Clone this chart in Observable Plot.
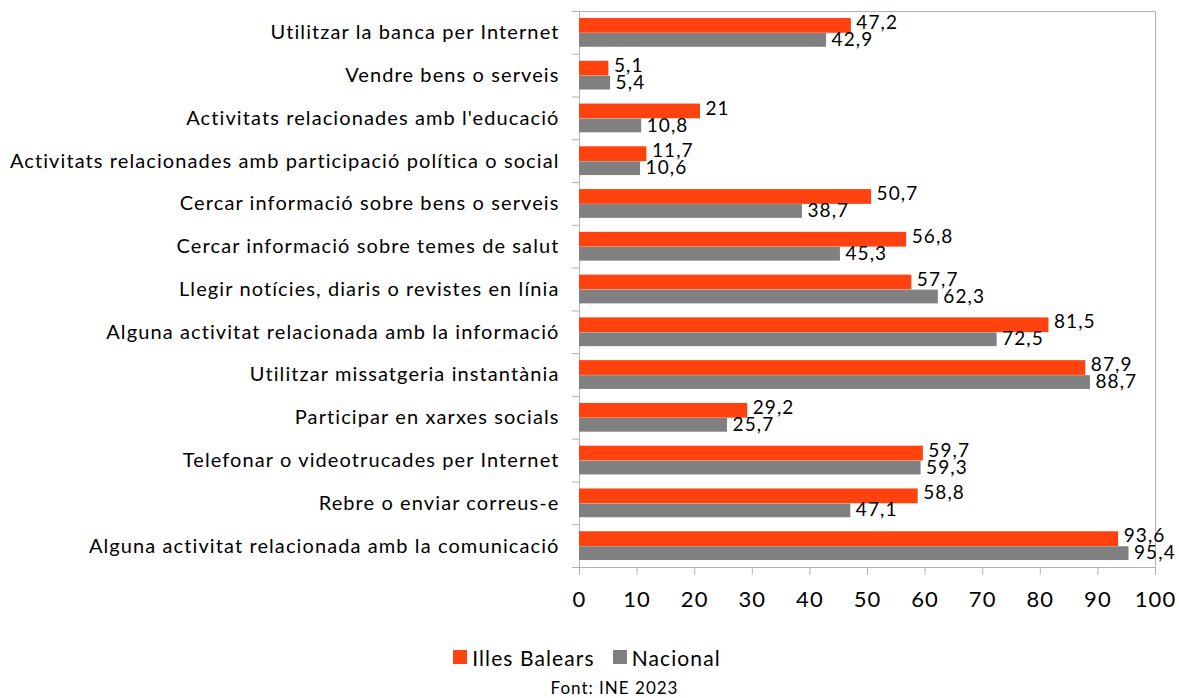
<!DOCTYPE html>
<html>
<head>
<meta charset="utf-8">
<script src="https://cdn.jsdelivr.net/npm/d3@7"></script>
<script src="https://cdn.jsdelivr.net/npm/@observablehq/plot@0.6"></script>
<style>
  body { margin: 0; background: #fff; font-family: Lato, sans-serif; }
  svg text { letter-spacing: 1.1px; }
  #legend { display: flex; justify-content: center; align-items: center; margin-top: 20px; height: 24px; font-size: 21px; letter-spacing: 1.1px; color: #000; padding-right: 5px; }
  #legend .item { display: flex; align-items: center; margin: 0 9px; }
  #legend .sw { width: 14px; height: 14px; margin-right: 5px; }
  #caption { text-align: center; font-size: 17px; letter-spacing: 1px; margin-top: 9px; height: 20px; line-height: 20px; color: #000; padding-left: 50px; }
</style>
</head>
<body>
<div id="chart"></div>
<div id="legend"></div>
<div id="caption">Font: INE 2023</div>
<script>
const categories = [
  "Utilitzar la banca per Internet",
  "Vendre bens o serveis",
  "Activitats relacionades amb l'educació",
  "Activitats relacionades amb participació política o social",
  "Cercar informació sobre bens o serveis",
  "Cercar informació sobre temes de salut",
  "Llegir notícies, diaris o revistes en línia",
  "Alguna activitat relacionada amb la informació",
  "Utilitzar missatgeria instantània",
  "Participar en xarxes socials",
  "Telefonar o videotrucades per Internet",
  "Rebre o enviar correus-e",
  "Alguna activitat relacionada amb la comunicació"
];
const balears = [47.2, 5.1, 21, 11.7, 50.7, 56.8, 57.7, 81.5, 87.9, 29.2, 59.7, 58.8, 93.6];
const nacional = [42.9, 5.4, 10.8, 10.6, 38.7, 45.3, 62.3, 72.5, 88.7, 25.7, 59.3, 47.1, 95.4];
const seriesNames = ["Illes Balears", "Nacional"];
const colors = ["#ff420e", "#808080"];
const xTicks = [0, 10, 20, 30, 40, 50, 60, 70, 80, 90, 100];

const rowsB = categories.map((c, i) => ({category: c, value: balears[i]}));
const rowsN = categories.map((c, i) => ({category: c, value: nacional[i]}));
const fmt = d => String(d.value).replace(".", ",");

const H = 625, mt = 11, mb = 58;
const step = (H - mt - mb) / categories.length;

const chart = Plot.plot({
  width: 1179,
  height: H,
  marginLeft: 579,
  marginRight: 24,
  marginTop: mt,
  marginBottom: mb,
  style: {fontFamily: "Lato, sans-serif", fontSize: "19px", color: "#000", background: "#fff"},
  x: {domain: [0, 100]},
  y: {domain: categories, padding: 0, round: false},
  marks: [
    Plot.frame({stroke: "#b3b3b3"}),
    Plot.ruleY(categories, {y: d => d, dy: -step / 2, x1: 0, x2: 0, insetLeft: -7, stroke: "#b3b3b3"}),
    Plot.ruleY(categories.slice(-1), {y: d => d, dy: step / 2, x1: 0, x2: 0, insetLeft: -7, stroke: "#b3b3b3"}),
    Plot.barX(rowsB, {x: "value", y: "category", fill: colors[0], insetTop: 7, insetBottom: 21}),
    Plot.barX(rowsN, {x: "value", y: "category", fill: colors[1], insetTop: 22, insetBottom: 7}),
    Plot.text(rowsB, {x: "value", y: "category", text: fmt, textAnchor: "start", dx: 5, dy: -10, fontSize: 19, fill: "#000"}),
    Plot.text(rowsN, {x: "value", y: "category", text: fmt, textAnchor: "start", dx: 5, dy: 7, fontSize: 19, fill: "#000"}),
    Plot.axisY({tickSize: 0, tickPadding: 20, fontSize: 20, fill: "#000", label: null}),
    Plot.axisX({ticks: xTicks, tickSize: 8, tickPadding: 16, stroke: "#b3b3b3", fill: "#000", fontSize: 22, label: null})
  ]
});
document.getElementById("chart").appendChild(chart);

const legend = document.getElementById("legend");
seriesNames.forEach((name, i) => {
  const item = document.createElement("div");
  item.className = "item";
  const sw = document.createElement("div");
  sw.className = "sw";
  sw.style.background = colors[i];
  const t = document.createElement("span");
  t.textContent = name;
  item.appendChild(sw);
  item.appendChild(t);
  legend.appendChild(item);
});
</script>
</body>
</html>
